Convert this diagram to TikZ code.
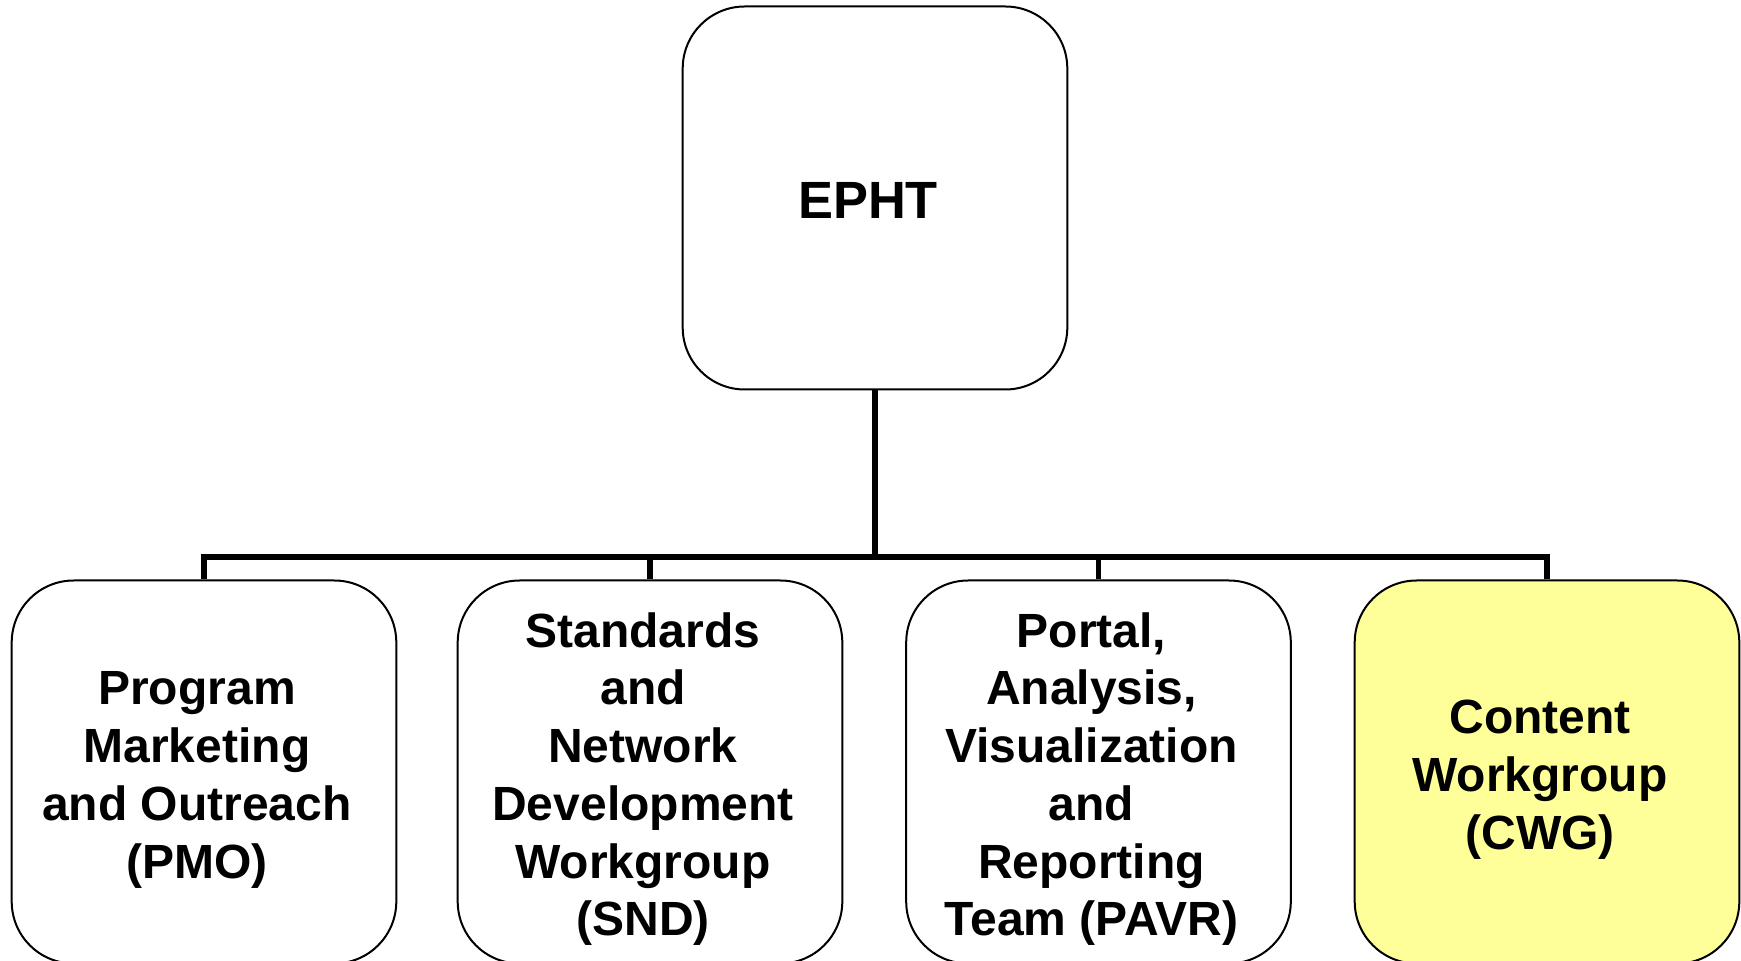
\documentclass[tikz,border=0pt]{standalone}
\usepackage{fontspec}
\setmainfont{Liberation Sans}
\definecolor{cwgyellow}{HTML}{FFFF99}
% text sits a little left of and below the box centre
\newcommand\boxtext[1]{\begin{tabular}{@{}c@{\hspace{7pt}}}\noalign{\vspace{8pt}}#1\end{tabular}}
\begin{document}
\begin{tikzpicture}[ x=0.5pt, y=-0.5pt,
  unit/.style={draw, line width=1pt, rounded corners=31pt, minimum width=192.3pt, minimum height=191.5pt, inner sep=0pt},
  team/.style={unit, font=\bfseries\fontsize{24}{28.85}\selectfont},
  link/.style={line width=2.75pt},
]
\useasboundingbox (0,0) rectangle (1741,961);
\clip (0,0) rectangle (1741,961);

\node[unit, font=\bfseries\fontsize{26.2}{31}\selectfont] (epht) at (875,198) {\boxtext{EPHT}};

\node[team] (pmo) at (204,772) {\boxtext{Program\\Marketing\\and Outreach\\(PMO)}};
\node[team] (snd) at (650,772) {\boxtext{Standards\\and\\Network\\Development\\Workgroup\\(SND)}};
\node[team] (pavr) at (1098.5,772) {\boxtext{Portal,\\Analysis,\\Visualization\\and\\Reporting\\Team (PAVR)}};
\node[team, fill=cwgyellow] (cwg) at (1547,772) {\boxtext{Content\\Workgroup\\(CWG)}};

\coordinate (bus) at (875,557);
\draw[link] (epht.south) -- (bus);
\foreach \kid in {pmo,snd,pavr,cwg}
  \draw[link] (bus) -| (\kid.north);

\end{tikzpicture}
\end{document}
